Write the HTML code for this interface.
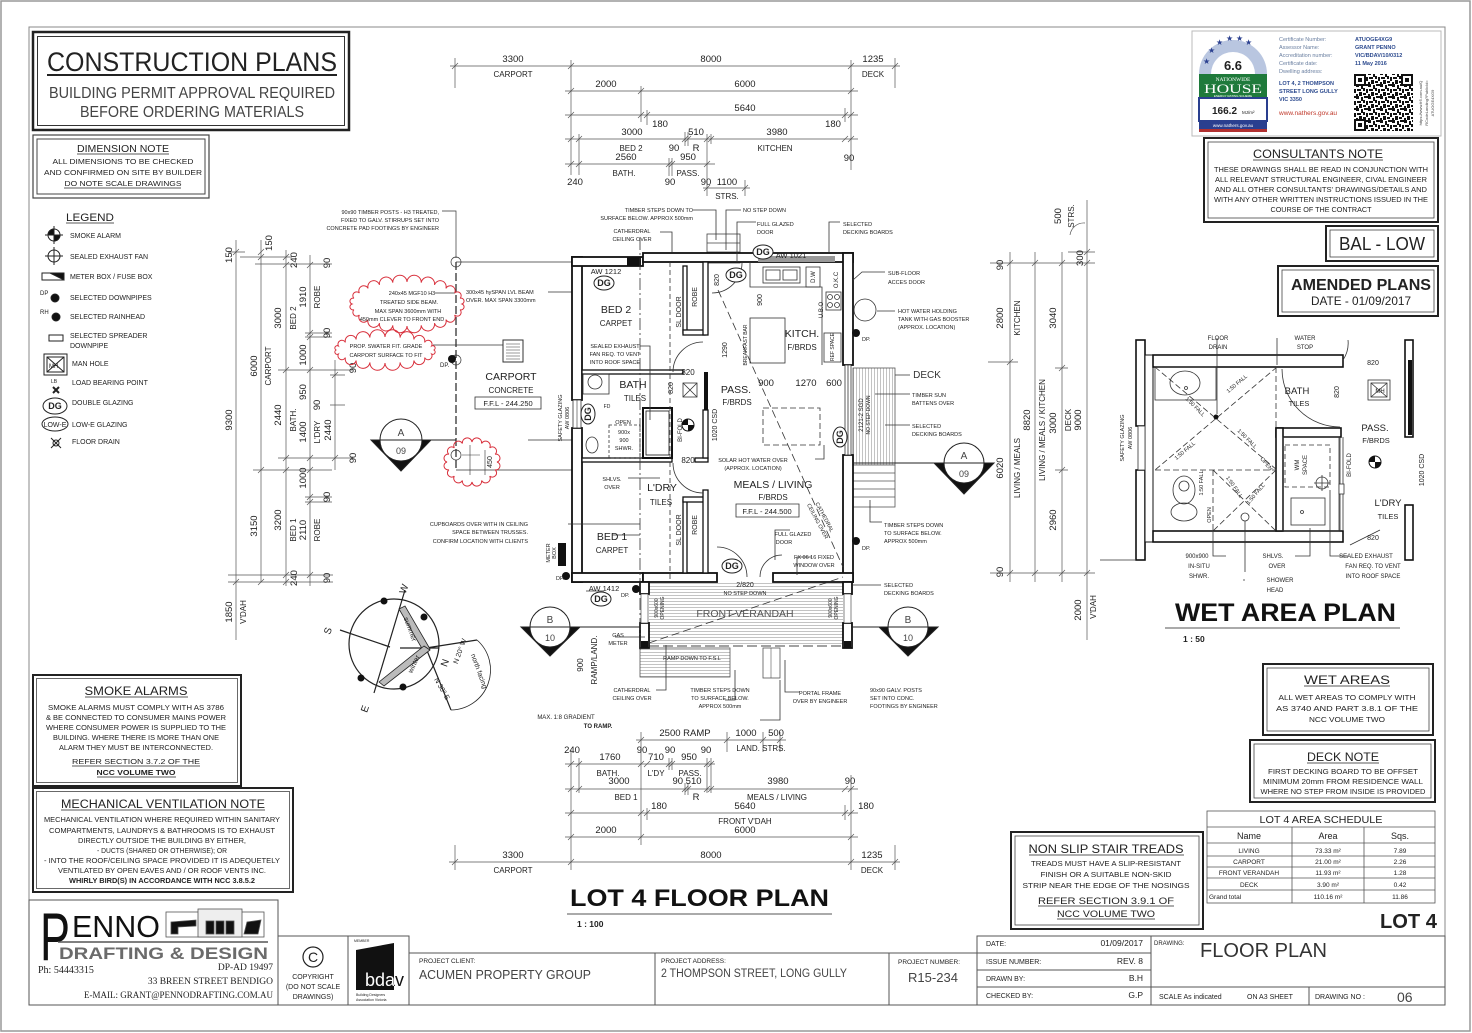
<!DOCTYPE html>
<html><head><meta charset="utf-8">
<style>
html,body{margin:0;padding:0;background:#fff;}
svg{display:block}
text{font-family:"Liberation Sans",sans-serif}
text:not([fill]){fill:#222}
.n{font-size:5.5px}
.m{font-size:7px}
.d{font-size:9.5px}
.rm{font-size:10.5px}
.sb{font-size:8px}
.ser{font-family:"Liberation Serif",serif}
.dg{font-size:9px;font-weight:bold}
</style></head><body>
<svg width="1472" height="1033" viewBox="0 0 1472 1033" xmlns="http://www.w3.org/2000/svg">
<defs>
<pattern id="hz" width="4" height="3" patternUnits="userSpaceOnUse"><rect width="4" height="3" fill="#fff"/><line x1="0" y1="1.5" x2="4" y2="1.5" stroke="#aaa" stroke-width="0.7"/></pattern>
<pattern id="vt" width="3" height="4" patternUnits="userSpaceOnUse"><rect width="3" height="4" fill="#fff"/><line x1="1.5" y1="0" x2="1.5" y2="4" stroke="#aaa" stroke-width="0.7"/></pattern>
<pattern id="qr" width="12" height="12" patternUnits="userSpaceOnUse"><rect width="12" height="12" fill="#fff"/><rect x="0" y="0" width="3" height="3" fill="#111"/><rect x="5" y="1" width="2" height="4" fill="#111"/><rect x="8" y="0" width="4" height="2" fill="#111"/><rect x="1" y="5" width="4" height="2" fill="#111"/><rect x="7" y="4" width="2" height="3" fill="#111"/><rect x="10" y="5" width="2" height="4" fill="#111"/><rect x="3" y="8" width="3" height="4" fill="#111"/><rect x="7" y="9" width="3" height="2" fill="#111"/><rect x="0" y="10" width="2" height="2" fill="#111"/></pattern>
<clipPath id="bdc"><polygon points="356,950 394,943 394,990 356,990"/></clipPath>
</defs>

<!-- frames -->
<rect x="1" y="1" width="1469" height="1030" fill="none" stroke="#999" stroke-width="1.5"/>
<rect x="29" y="27" width="1416" height="978" fill="none" stroke="#888" stroke-width="1"/>

<!-- CONSTRUCTION PLANS -->
<rect x="33" y="32" width="316" height="98" fill="none" stroke="#222" stroke-width="2.5"/>
<rect x="37.5" y="36.5" width="307" height="89" fill="none" stroke="#333" stroke-width="1"/>
<text x="47" y="71" font-size="27" textLength="290" lengthAdjust="spacingAndGlyphs">CONSTRUCTION PLANS</text>
<line x1="47" y1="75" x2="337" y2="75" stroke="#222" stroke-width="2"/>
<text x="49" y="98" font-size="16" fill="#444" textLength="286" lengthAdjust="spacingAndGlyphs">BUILDING PERMIT APPROVAL REQUIRED</text>
<text x="80" y="117" font-size="16" fill="#444" textLength="224" lengthAdjust="spacingAndGlyphs">BEFORE ORDERING MATERIALS</text>

<!-- DIMENSION NOTE -->
<rect x="33" y="135" width="176" height="63" fill="none" stroke="#444" stroke-width="1.2"/>
<rect x="37" y="139" width="168" height="55" fill="none" stroke="#444" stroke-width="1"/>
<g text-anchor="middle">
<text x="123" y="152" font-size="10" textLength="92" lengthAdjust="spacingAndGlyphs">DIMENSION NOTE</text>
<text x="123" y="164" class="m" textLength="141" lengthAdjust="spacingAndGlyphs">ALL DIMENSIONS TO BE CHECKED</text>
<text x="123" y="175" class="m" textLength="158" lengthAdjust="spacingAndGlyphs">AND CONFIRMED ON SITE BY BUILDER</text>
<text x="123" y="186" class="m" textLength="117" lengthAdjust="spacingAndGlyphs">DO NOTE SCALE DRAWINGS</text>
</g>
<line x1="77" y1="154" x2="169" y2="154" stroke="#222" stroke-width="0.8"/>
<line x1="64" y1="188" x2="181" y2="188" stroke="#222" stroke-width="0.8"/>

<!-- LEGEND -->
<text x="66" y="221" font-size="11" textLength="48" lengthAdjust="spacingAndGlyphs">LEGEND</text>
<line x1="66" y1="223" x2="114" y2="223" stroke="#222" stroke-width="0.8"/>
<g>
<text x="70" y="238" class="m">SMOKE ALARM</text>
<text x="70" y="259" class="m">SEALED EXHAUST FAN</text>
<text x="70" y="279" class="m">METER BOX / FUSE BOX</text>
<text x="70" y="300" class="m">SELECTED DOWNPIPES</text>
<text x="70" y="319" class="m">SELECTED RAINHEAD</text>
<text x="70" y="338" class="m">SELECTED SPREADER</text>
<text x="70" y="348" class="m">DOWNPIPE</text>
<text x="72" y="366" class="m">MAN HOLE</text>
<text x="72" y="385" class="m">LOAD BEARING POINT</text>
<text x="72" y="405" class="m">DOUBLE GLAZING</text>
<text x="72" y="427" class="m">LOW-E GLAZING</text>
<text x="72" y="444" class="m">FLOOR DRAIN</text>
</g>
<g stroke="#222" fill="none" stroke-width="1">
<circle cx="54" cy="235" r="6"/><path d="M54 235h-6a6 6 0 0 1 6-6z M54 235h6a6 6 0 0 1 -6 6z" fill="#111"/><path d="M45 235h18M54 226v18"/>
<circle cx="54" cy="256" r="6"/><path d="M45 256h18M54 247v18"/>
<rect x="42" y="273" width="22" height="7"/><polygon points="50,273 64,273 64,280" fill="#111"/>
<circle cx="55" cy="298" r="4" fill="#111"/><circle cx="56" cy="317" r="4" fill="#111"/>
<rect x="49" y="335" width="14" height="6"/>
<rect x="44" y="354" width="23" height="21"/><rect x="47" y="357" width="17" height="15"/><path d="M47 357l17 15M64 357l-17 15"/>
<path d="M53 387l6 6M59 387l-6 6" stroke-width="2"/>
<ellipse cx="55" cy="406" rx="12" ry="8"/>
<ellipse cx="55" cy="424" rx="13" ry="7"/>
<circle cx="56" cy="443" r="3"/><path d="M51 438l10 10M61 438l-10 10"/>
</g>
<text x="40" y="295" font-size="6">DP</text><text x="40" y="314" font-size="6">RH</text>
<text x="51" y="383" font-size="5">LB</text>
<text x="49" y="368" font-size="6">MH</text>
<text x="55" y="409" text-anchor="middle" class="dg">DG</text>
<text x="55" y="427" text-anchor="middle" font-size="7">LOW-E</text>

<!-- SMOKE ALARMS -->
<rect x="33" y="675" width="208" height="111" fill="none" stroke="#222" stroke-width="2"/>
<rect x="36.5" y="678.5" width="201" height="104" fill="none" stroke="#444" stroke-width="0.8"/>
<g text-anchor="middle">
<text x="136" y="695" font-size="11.5" textLength="103" lengthAdjust="spacingAndGlyphs">SMOKE ALARMS</text>
<text x="136" y="710" class="m" textLength="176" lengthAdjust="spacingAndGlyphs">SMOKE ALARMS MUST COMPLY WITH AS 3786</text>
<text x="136" y="720" class="m" textLength="180" lengthAdjust="spacingAndGlyphs">&amp; BE CONNECTED TO CONSUMER MAINS POWER</text>
<text x="136" y="730" class="m" textLength="180" lengthAdjust="spacingAndGlyphs">WHERE CONSUMER POWER IS SUPPLIED TO THE</text>
<text x="136" y="740" class="m" textLength="166" lengthAdjust="spacingAndGlyphs">BUILDING. WHERE THERE IS MORE THAN ONE</text>
<text x="136" y="750" class="m" textLength="154" lengthAdjust="spacingAndGlyphs">ALARM THEY MUST BE INTERCONNECTED.</text>
<text x="136" y="764" class="m" textLength="128" lengthAdjust="spacingAndGlyphs">REFER SECTION 3.7.2 OF THE</text>
<text x="136" y="775" class="m" font-weight="bold" textLength="79" lengthAdjust="spacingAndGlyphs">NCC VOLUME TWO</text>
</g>
<path d="M85 697h103M72 766h128M97 777h79" stroke="#222" stroke-width="0.8"/>

<!-- MECHANICAL -->
<rect x="33" y="788" width="260" height="104" fill="none" stroke="#222" stroke-width="2"/>
<rect x="36.5" y="791.5" width="253" height="97" fill="none" stroke="#444" stroke-width="0.8"/>
<g text-anchor="middle">
<text x="163" y="808" font-size="11.5" textLength="204" lengthAdjust="spacingAndGlyphs">MECHANICAL VENTILATION NOTE</text>
<text x="162" y="822" class="m" textLength="236" lengthAdjust="spacingAndGlyphs">MECHANICAL VENTILATION WHERE REQUIRED WITHIN SANITARY</text>
<text x="162" y="833" class="m" textLength="226" lengthAdjust="spacingAndGlyphs">COMPARTMENTS, LAUNDRYS &amp; BATHROOMS IS TO EXHAUST</text>
<text x="162" y="843" class="m" textLength="168" lengthAdjust="spacingAndGlyphs">DIRECTLY OUTSIDE THE BUILDING BY EITHER,</text>
<text x="162" y="853" class="m" textLength="130" lengthAdjust="spacingAndGlyphs">- DUCTS (SHARED OR OTHERWISE); OR</text>
<text x="162" y="863" class="m" textLength="236" lengthAdjust="spacingAndGlyphs">- INTO THE ROOF/CEILING SPACE PROVIDED IT IS ADEQUETELY</text>
<text x="162" y="873" class="m" textLength="208" lengthAdjust="spacingAndGlyphs">VENTILATED BY OPEN EAVES AND / OR ROOF VENTS INC.</text>
<text x="162" y="883" class="m" font-weight="bold" textLength="186" lengthAdjust="spacingAndGlyphs">WHIRLY BIRD(S) IN ACCORDANCE WITH NCC 3.8.5.2</text>
</g>
<line x1="61" y1="810" x2="265" y2="810" stroke="#222" stroke-width="0.8"/>

<!-- PENNO title block -->
<g fill="none" stroke="#555" stroke-width="1">
<rect x="29" y="900" width="249" height="105"/>
<rect x="278" y="936" width="70" height="69"/>
<rect x="348" y="936" width="61" height="69"/>
<rect x="409" y="953" width="246" height="52"/>
<rect x="655" y="953" width="234" height="52"/>
<rect x="889" y="953" width="88" height="52"/>
<rect x="977" y="936" width="174" height="69"/>
<path d="M977 953h174M977 970h174M977 987h174"/>
<rect x="1151" y="936" width="294" height="69"/>
<path d="M1151 987h294M1309 987v18"/>
</g>
<text x="40" y="960" font-size="68" textLength="30" lengthAdjust="spacingAndGlyphs" fill="#111">P</text>
<text x="72" y="937" font-size="31" textLength="88" lengthAdjust="spacingAndGlyphs" fill="#111">ENNO</text>
<g stroke="#555" stroke-width="0.8">
<rect x="166" y="912" width="98" height="25" fill="none"/>
<rect x="198" y="909" width="44" height="28" fill="#eee"/>
<polygon points="171,922 196,920 196,926 178,927 178,934 171,934" fill="#111"/>
<rect x="206" y="921" width="8" height="13" fill="#111"/><rect x="216" y="921" width="8" height="13" fill="#111"/><rect x="226" y="921" width="8" height="13" fill="#111"/>
<polygon points="244,934 247,922 261,920 258,934" fill="#111"/>
</g>
<line x1="58" y1="942" x2="268" y2="942" stroke="#555" stroke-width="1.5"/>
<text x="59" y="959" font-size="17" font-weight="bold" fill="#6b6b6b" textLength="209" lengthAdjust="spacingAndGlyphs">DRAFTING &amp; DESIGN</text>
<text x="38" y="973" class="ser" font-size="10">Ph: 54443315</text>
<g text-anchor="end" font-size="9.5">
<text x="273" y="970" class="ser">DP-AD 19497</text>
<text x="273" y="984" class="ser">33 BREEN STREET BENDIGO</text>
<text x="273" y="998" class="ser" textLength="189" lengthAdjust="spacingAndGlyphs">E-MAIL: GRANT@PENNODRAFTING.COM.AU</text>
</g>
<circle cx="313" cy="957" r="10" fill="none" stroke="#222" stroke-width="1.2"/>
<text x="313" y="962" text-anchor="middle" font-size="14">C</text>
<g text-anchor="middle" font-size="7"><text x="313" y="979">COPYRIGHT</text><text x="313" y="989">(DO NOT SCALE</text><text x="313" y="999">DRAWINGS)</text></g>
<text x="354" y="942" font-size="3.5">MEMBER</text>
<polygon points="356,950 394,943 394,990 356,990" fill="#111"/>
<text x="365" y="986" font-size="18" fill="#111">bdav</text>
<text x="365" y="986" font-size="18" fill="#fff" clip-path="url(#bdc)">bdav</text>
<text x="356" y="996" font-size="3.5">Building Designers</text><text x="356" y="1001" font-size="3.5">Association Victoria</text>
<text x="419" y="963" font-size="6.5">PROJECT CLIENT:</text>
<text x="419" y="979" font-size="13" fill="#444" textLength="172" lengthAdjust="spacingAndGlyphs">ACUMEN PROPERTY GROUP</text>
<text x="661" y="963" font-size="6.5">PROJECT ADDRESS:</text>
<text x="661" y="977" font-size="11.5" fill="#444" textLength="186" lengthAdjust="spacingAndGlyphs">2 THOMPSON STREET, LONG GULLY</text>
<text x="898" y="964" font-size="6.5">PROJECT NUMBER:</text>
<text x="933" y="982" text-anchor="middle" font-size="12.5" fill="#444" textLength="50" lengthAdjust="spacingAndGlyphs">R15-234</text>
<g font-size="7"><text x="986" y="946">DATE:</text><text x="986" y="964">ISSUE NUMBER:</text><text x="986" y="981">DRAWN BY:</text><text x="986" y="998">CHECKED BY:</text></g>
<g font-size="8.5" text-anchor="end"><text x="1143" y="946">01/09/2017</text><text x="1143" y="964">REV. 8</text><text x="1143" y="981">B.H</text><text x="1143" y="998">G.P</text></g>
<text x="1154" y="945" font-size="6">DRAWING:</text>
<text x="1200" y="957" font-size="20" fill="#333" textLength="127" lengthAdjust="spacingAndGlyphs">FLOOR PLAN</text>
<text x="1159" y="999" font-size="7">SCALE As indicated</text>
<text x="1247" y="999" font-size="7">ON A3 SHEET</text>
<text x="1315" y="999" font-size="7">DRAWING NO :</text>
<text x="1397" y="1002" font-size="14" fill="#444">06</text>

<!-- NATHERS -->
<rect x="1192" y="31" width="249" height="105" fill="#fff" stroke="#bbb" stroke-width="1"/>
<path d="M1199 74a34 34 0 0 1 68 0z" fill="#b9c6e0"/>
<path d="M1211 74a22 22 0 0 1 44 0z" fill="#fff"/>
<g font-size="8"><text x="1203" y="64" fill="#2a3f8f">★</text><text x="1208" y="53" fill="#2a3f8f">★</text><text x="1216" y="45" fill="#2a3f8f">★</text><text x="1226" y="41" fill="#2a3f8f">★</text><text x="1236" y="41" fill="#2a3f8f">★</text><text x="1245" y="45" fill="#2a3f8f">★</text></g>
<text x="1233" y="70" text-anchor="middle" font-size="13" font-weight="bold">6.6</text>
<rect x="1199" y="74" width="68" height="24" fill="#1f7a3b"/>
<text x="1233" y="81" text-anchor="middle" font-size="5.5" fill="#fff" class="ser">NATIONWIDE</text>
<text x="1233" y="93" text-anchor="middle" font-size="13" fill="#fff" class="ser" textLength="58" lengthAdjust="spacingAndGlyphs">HOUSE</text>
<text x="1233" y="97" text-anchor="middle" font-size="3" fill="#fff">ENERGY RATING SCHEME</text>
<rect x="1199" y="98" width="68" height="23" fill="#fff" stroke="#2a3f8f" stroke-width="2"/>
<text x="1212" y="114" font-size="10" font-weight="bold">166.2</text><text x="1242" y="114" font-size="4.5">MJ/m²</text>
<rect x="1199" y="121" width="68" height="8" fill="#2a3f8f"/>
<text x="1233" y="127" text-anchor="middle" font-size="4.5" fill="#fff">www.nathers.gov.au</text>
<rect x="1199" y="129" width="68" height="3" fill="#b03030"/>
<g font-size="5.5"><text x="1279" y="41" fill="#6a7fa0">Certificate Number:</text><text x="1279" y="49" fill="#6a7fa0">Assessor Name:</text><text x="1279" y="57" fill="#6a7fa0">Accreditation number:</text><text x="1279" y="65" fill="#6a7fa0">Certificate date:</text><text x="1279" y="73" fill="#6a7fa0">Dwelling address:</text></g>
<g font-size="5.5" font-weight="bold"><text x="1355" y="41" fill="#2d4b8f">ATUOGE4XG9</text><text x="1355" y="49" fill="#2d4b8f">GRANT PENNO</text><text x="1355" y="57" fill="#2d4b8f">VIC/BDAV/10/0312</text><text x="1355" y="65" fill="#2d4b8f">11 May 2016</text>
<text x="1279" y="85" fill="#2d4b8f">LOT 4, 2 THOMPSON</text><text x="1279" y="93" fill="#2d4b8f">STREET LONG GULLY</text><text x="1279" y="101" fill="#2d4b8f">VIC 3350</text></g>
<text x="1279" y="115" font-size="6.5" fill="#c0392b">www.nathers.gov.au</text>
<rect x="1354" y="74" width="59" height="57" fill="url(#qr)"/>
<g fill="#111"><rect x="1354" y="74" width="12" height="12"/><rect x="1401" y="74" width="12" height="12"/><rect x="1354" y="119" width="12" height="12"/></g>
<g fill="#fff"><rect x="1356" y="76" width="8" height="8"/><rect x="1403" y="76" width="8" height="8"/><rect x="1356" y="121" width="8" height="8"/></g>
<g fill="#111"><rect x="1358" y="78" width="4" height="4"/><rect x="1405" y="78" width="4" height="4"/><rect x="1358" y="123" width="4" height="4"/></g>
<g font-size="4"><text transform="rotate(-90 1422 103)" x="1422" y="103" text-anchor="middle" fill="#444">https://www.fr5.com.au/Q</text><text transform="rotate(-90 1428 103)" x="1428" y="103" text-anchor="middle" fill="#444">RCodeLanding?PublicId=</text><text transform="rotate(-90 1434 103)" x="1434" y="103" text-anchor="middle" fill="#444">ATUOGE4XG9</text></g>

<!-- CONSULTANTS NOTE -->
<rect x="1204" y="138" width="234" height="84" fill="none" stroke="#222" stroke-width="2"/>
<rect x="1208" y="142" width="226" height="76" fill="none" stroke="#444" stroke-width="0.8"/>
<g text-anchor="middle">
<text x="1318" y="158" font-size="12" textLength="130" lengthAdjust="spacingAndGlyphs">CONSULTANTS NOTE</text>
<text x="1321" y="172" class="m" textLength="214" lengthAdjust="spacingAndGlyphs">THESE DRAWINGS SHALL BE READ IN CONJUNCTION WITH</text>
<text x="1321" y="182" class="m" textLength="212" lengthAdjust="spacingAndGlyphs">ALL RELEVANT STRUCTURAL ENGINEER, CIVAL ENGINEER</text>
<text x="1321" y="192" class="m" textLength="212" lengthAdjust="spacingAndGlyphs">AND ALL OTHER CONSULTANTS' DRAWINGS/DETAILS AND</text>
<text x="1321" y="202" class="m" textLength="214" lengthAdjust="spacingAndGlyphs">WITH ANY OTHER WRITTEN INSTRUCTIONS ISSUED IN THE</text>
<text x="1321" y="212" class="m" textLength="101" lengthAdjust="spacingAndGlyphs">COURSE OF THE CONTRACT</text>
</g>
<line x1="1253" y1="160" x2="1383" y2="160" stroke="#222" stroke-width="0.8"/>
<rect x="1326" y="226" width="112" height="35" fill="none" stroke="#222" stroke-width="2"/>
<rect x="1330" y="230" width="104" height="27" fill="none" stroke="#444" stroke-width="0.8"/>
<text x="1382" y="250" text-anchor="middle" font-size="18" textLength="86" lengthAdjust="spacingAndGlyphs">BAL - LOW</text>
<rect x="1278" y="266" width="160" height="50" fill="none" stroke="#222" stroke-width="2"/>
<rect x="1282" y="270" width="152" height="42" fill="none" stroke="#444" stroke-width="0.8"/>
<text x="1361" y="290" text-anchor="middle" font-size="16" font-weight="bold" textLength="140" lengthAdjust="spacingAndGlyphs">AMENDED PLANS</text>
<text x="1361" y="305" text-anchor="middle" font-size="12" textLength="100" lengthAdjust="spacingAndGlyphs">DATE - 01/09/2017</text>

<!-- WET AREAS / DECK NOTE -->
<rect x="1263" y="664" width="170" height="71" fill="none" stroke="#222" stroke-width="2"/>
<rect x="1267" y="668" width="162" height="63" fill="none" stroke="#444" stroke-width="0.8"/>
<g text-anchor="middle">
<text x="1347" y="684" font-size="12" textLength="86" lengthAdjust="spacingAndGlyphs">WET AREAS</text>
<text x="1347" y="700" class="m" textLength="137" lengthAdjust="spacingAndGlyphs">ALL WET AREAS TO COMPLY WITH</text>
<text x="1347" y="711" class="m" textLength="142" lengthAdjust="spacingAndGlyphs">AS 3740 AND PART 3.8.1 OF THE</text>
<text x="1347" y="722" class="m" textLength="76" lengthAdjust="spacingAndGlyphs">NCC VOLUME TWO</text>
</g>
<line x1="1304" y1="686" x2="1390" y2="686" stroke="#222" stroke-width="0.8"/>
<rect x="1250" y="740" width="185" height="62" fill="none" stroke="#222" stroke-width="2"/>
<rect x="1254" y="744" width="177" height="54" fill="none" stroke="#444" stroke-width="0.8"/>
<g text-anchor="middle">
<text x="1343" y="761" font-size="12" textLength="72" lengthAdjust="spacingAndGlyphs">DECK NOTE</text>
<text x="1343" y="774" class="m" textLength="150" lengthAdjust="spacingAndGlyphs">FIRST DECKING BOARD TO BE OFFSET</text>
<text x="1343" y="784" class="m" textLength="160" lengthAdjust="spacingAndGlyphs">MINIMUM 20mm FROM RESIDENCE WALL</text>
<text x="1343" y="794" class="m" textLength="165" lengthAdjust="spacingAndGlyphs">WHERE NO STEP FROM INSIDE IS PROVIDED</text>
</g>
<line x1="1307" y1="763" x2="1379" y2="763" stroke="#222" stroke-width="0.8"/>

<!-- NON SLIP -->
<rect x="1011" y="832" width="192" height="97" fill="none" stroke="#222" stroke-width="2"/>
<rect x="1015" y="836" width="184" height="89" fill="none" stroke="#444" stroke-width="0.8"/>
<g text-anchor="middle">
<text x="1106" y="853" font-size="12" textLength="155" lengthAdjust="spacingAndGlyphs">NON SLIP STAIR TREADS</text>
<text x="1106" y="866" class="m" textLength="150" lengthAdjust="spacingAndGlyphs">TREADS MUST HAVE A SLIP-RESISTANT</text>
<text x="1106" y="877" class="m" textLength="131" lengthAdjust="spacingAndGlyphs">FINISH OR A SUITABLE NON-SKID</text>
<text x="1106" y="888" class="m" textLength="167" lengthAdjust="spacingAndGlyphs">STRIP NEAR THE EDGE OF THE NOSINGS</text>
<text x="1106" y="904" font-size="9.5" textLength="136" lengthAdjust="spacingAndGlyphs">REFER SECTION 3.9.1 OF</text>
<text x="1106" y="917" font-size="9.5" textLength="98" lengthAdjust="spacingAndGlyphs">NCC VOLUME TWO</text>
</g>
<path d="M1029 855h155M1038 906h136M1057 919h98" stroke="#222" stroke-width="0.8"/>

<!-- AREA SCHEDULE -->
<g fill="none" stroke="#555" stroke-width="0.8">
<rect x="1207" y="811" width="228" height="92"/>
<path d="M1207 827h228M1207 843h228M1207 856h228M1207 867h228M1207 878h228M1207 890h228M1292 827v76M1364 827v76"/>
</g>
<g text-anchor="middle">
<text x="1321" y="823" font-size="10" textLength="123" lengthAdjust="spacingAndGlyphs">LOT 4 AREA SCHEDULE</text>
<text x="1249" y="839" font-size="9">Name</text><text x="1328" y="839" font-size="9">Area</text><text x="1400" y="839" font-size="9">Sqs.</text>
<g font-size="6.5"><text x="1249" y="853">LIVING</text><text x="1328" y="853">73.33 m²</text><text x="1400" y="853">7.89</text>
<text x="1249" y="864">CARPORT</text><text x="1328" y="864">21.00 m²</text><text x="1400" y="864">2.26</text>
<text x="1249" y="875">FRONT VERANDAH</text><text x="1328" y="875">11.93 m²</text><text x="1400" y="875">1.28</text>
<text x="1249" y="887">DECK</text><text x="1328" y="887">3.90 m²</text><text x="1400" y="887">0.42</text>
<text x="1328" y="899">110.16 m²</text><text x="1400" y="899">11.86</text></g>
</g>
<text x="1209" y="899" font-size="6.5">Grand total</text>
<text x="1380" y="928" font-size="20" font-weight="bold" textLength="57" lengthAdjust="spacingAndGlyphs">LOT 4</text>

<!-- PLAN TITLES -->
<text x="570" y="906" font-size="24" font-weight="bold" fill="#111" textLength="259" lengthAdjust="spacingAndGlyphs">LOT 4 FLOOR PLAN</text>
<line x1="567" y1="914" x2="832" y2="914" stroke="#777" stroke-width="1.2"/>
<text x="577" y="927" font-size="8.5" font-weight="bold">1 : 100</text>
<text x="1175" y="621" font-size="25" font-weight="bold" fill="#111" textLength="221" lengthAdjust="spacingAndGlyphs">WET AREA PLAN</text>
<line x1="1165" y1="628" x2="1400" y2="628" stroke="#777" stroke-width="1.2"/>
<text x="1183" y="642" font-size="8.5" font-weight="bold">1 : 50</text>

<!-- ===== DIMENSIONS ===== -->
<g stroke="#555" stroke-width="0.7" fill="none">
<path d="M450 66H900M565 91H858M565 115H858M565 139H858M565 164H715M703 188H750"/>
<path d="M455 58v30M895 58v30M571 60v115M851 60v110M641 86v36M647 110v15M845 108v14M579 134v41M685 132v14M688 132v14M707 134v62M711 134v10M669 158v18M672 158v18M745 180v16"/>
<path d="M452 69l6-6M568 69l6-6M848 69l6-6M892 69l6-6M568 94l6-6M638 94l6-6M848 94l6-6M568 118l6-6M638 118l6-6M644 118l6-6M842 118l6-6M848 118l6-6M568 142l6-6M576 142l6-6M682 142l6-6M685 142l6-6M704 142l6-6M708 142l6-6M842 142l6-6M848 142l6-6M568 167l6-6M576 167l6-6M666 167l6-6M669 167l6-6M704 167l6-6M704 191l6-6M742 191l6-6"/>
<path d="M236 240V640M261 240V582M286 250V586M310 255V586M335 360V470"/>
<path d="M228 252H245M240 257H292M255 264H332M278 370H353M278 458H353M305 333H332M305 337H332M253 470H332M305 497H332M305 502H332M228 575H333M228 582H333M330 375H345M330 405H345"/>
<path d="M233 255l6-6M233 585l6-6M258 255l6-6M258 260l6-6M258 473l6-6M258 585l6-6M283 260l6-6M283 268l6-6M283 373l6-6M283 461l6-6M283 473l6-6M283 578l6-6M283 585l6-6M307 268l6-6M307 336l6-6M307 340l6-6M307 373l6-6M307 461l6-6M307 473l6-6M307 500l6-6M307 505l6-6M307 578l6-6M332 378l6-6M332 461l6-6"/>
<path d="M1010 252V582M1035 252V582M1062 252V582M1087 200V640"/>
<path d="M990 263H1095M990 573H1095M988 362H1018M1055 368H1068M1055 470H1068M1068 252H1095"/>
<path d="M1007 266l6-6M1007 576l6-6M1007 365l6-6M1032 266l6-6M1032 576l6-6M1059 266l6-6M1059 371l6-6M1059 473l6-6M1059 576l6-6M1084 255l6-6M1084 266l6-6M1084 576l6-6"/>
<path d="M1070 235a14 14 0 0 1 15 -12"/>
<path d="M636 740H786M565 764H715M565 789H858M565 813H858M565 837H858M449 862H900"/>
<path d="M455 845v25M895 845v25M571 750v120M851 775v95M641 732v113M727 732v20M763 732v20M780 732v20M647 808v12M845 805v15M579 758v35M669 758v12M672 758v12M707 758v35M711 758v35M685 783v12M688 783v12"/>
<path d="M638 743l6-6M724 743l6-6M760 743l6-6M777 743l6-6M568 767l6-6M576 767l6-6M638 767l6-6M644 767l6-6M666 767l6-6M669 767l6-6M704 767l6-6M708 767l6-6M568 792l6-6M576 792l6-6M682 792l6-6M685 792l6-6M704 792l6-6M708 792l6-6M842 792l6-6M848 792l6-6M568 816l6-6M638 816l6-6M644 816l6-6M842 816l6-6M848 816l6-6M568 840l6-6M638 840l6-6M848 840l6-6M452 865l6-6M568 865l6-6M848 865l6-6M892 865l6-6"/>
</g>

<g text-anchor="middle">
<text x="513" y="62" class="d">3300</text><text x="711" y="62" class="d">8000</text><text x="873" y="62" class="d">1235</text>
<text x="606" y="87" class="d">2000</text><text x="745" y="87" class="d">6000</text>
<text x="745" y="111" class="d">5640</text><text x="660" y="127" class="d">180</text><text x="833" y="127" class="d">180</text>
<text x="632" y="135" class="d">3000</text><text x="696" y="135" class="d">510</text><text x="777" y="135" class="d">3980</text>
<text x="674" y="151" class="d">90</text><text x="696" y="151" class="d">R</text><text x="849" y="161" class="d">90</text>
<text x="626" y="160" class="d">2560</text><text x="688" y="160" class="d">950</text>
<text x="575" y="185" class="d">240</text><text x="670" y="185" class="d">90</text><text x="706" y="185" class="d">90</text><text x="727" y="185" class="d">1100</text>
<text x="685" y="736" class="d">2500 RAMP</text><text x="746" y="736" class="d">1000</text><text x="776" y="736" class="d">500</text>
<text x="572" y="753" class="d">240</text><text x="642" y="753" class="d">90</text><text x="670" y="753" class="d">90</text><text x="706" y="753" class="d">90</text>
<text x="610" y="760" class="d">1760</text><text x="656" y="760" class="d">710</text><text x="689" y="760" class="d">950</text>
<text x="619" y="784" class="d">3000</text><text x="687" y="784" class="d">90 510</text><text x="778" y="784" class="d">3980</text><text x="850" y="784" class="d">90</text>
<text x="696" y="800" class="d">R</text>
<text x="659" y="809" class="d">180</text><text x="745" y="809" class="d">5640</text><text x="866" y="809" class="d">180</text>
<text x="606" y="833" class="d">2000</text><text x="745" y="833" class="d">6000</text>
<text x="513" y="858" class="d">3300</text><text x="711" y="858" class="d">8000</text><text x="872" y="858" class="d">1235</text>
</g>
<g text-anchor="middle">
<text x="513" y="77" class="sb">CARPORT</text><text x="873" y="77" class="sb">DECK</text>
<text x="631" y="151" class="sb">BED  2</text><text x="775" y="151" class="sb">KITCHEN</text>
<text x="624" y="176" class="sb">BATH.</text><text x="688" y="176" class="sb">PASS.</text><text x="727" y="199" class="sb">STRS.</text>
<text x="761" y="751" class="sb">LAND. STRS.</text>
<text x="608" y="776" class="sb">BATH.</text><text x="656" y="776" class="sb">L'DY</text><text x="690" y="776" class="sb">PASS.</text>
<text x="626" y="800" class="sb">BED  1</text><text x="777" y="800" class="sb">MEALS  /  LIVING</text>
<text x="745" y="824" class="sb">FRONT V'DAH</text>
<text x="513" y="873" class="sb">CARPORT</text><text x="872" y="873" class="sb">DECK</text>
</g>
<g text-anchor="middle">
<text transform="rotate(-90 232 255)" x="232" y="255" class="d">150</text>
<text transform="rotate(-90 232 420)" x="232" y="420" class="d">9300</text>
<text transform="rotate(-90 232 612)" x="232" y="612" class="d">1850</text>
<text transform="rotate(-90 272 243)" x="272" y="243" class="d">150</text>
<text transform="rotate(-90 257 366)" x="257" y="366" class="d">6000</text>
<text transform="rotate(-90 257 526)" x="257" y="526" class="d">3150</text>
<text transform="rotate(-90 281 318)" x="281" y="318" class="d">3000</text>
<text transform="rotate(-90 281 415)" x="281" y="415" class="d">2440</text>
<text transform="rotate(-90 281 520)" x="281" y="520" class="d">3200</text>
<text transform="rotate(-90 297 260)" x="297" y="260" class="d">240</text>
<text transform="rotate(-90 306 297)" x="306" y="297" class="d">1910</text>
<text transform="rotate(-90 306 355)" x="306" y="355" class="d">1000</text>
<text transform="rotate(-90 306 392)" x="306" y="392" class="d">950</text>
<text transform="rotate(-90 306 432)" x="306" y="432" class="d">1400</text>
<text transform="rotate(-90 306 478)" x="306" y="478" class="d">1000</text>
<text transform="rotate(-90 306 530)" x="306" y="530" class="d">2110</text>
<text transform="rotate(-90 297 578)" x="297" y="578" class="d">240</text>
<text transform="rotate(-90 331 430)" x="331" y="430" class="d">2440</text>
<text transform="rotate(-90 330 263)" x="330" y="263" class="d">90</text>
<text transform="rotate(-90 330 333)" x="330" y="333" class="d">90</text>
<text transform="rotate(-90 330 497)" x="330" y="497" class="d">90</text>
<text transform="rotate(-90 330 578)" x="330" y="578" class="d">90</text>
<text transform="rotate(-90 320 405)" x="320" y="405" class="d">90</text>
<text transform="rotate(-90 356 368)" x="356" y="368" class="d">90</text>
<text transform="rotate(-90 356 458)" x="356" y="458" class="d">90</text>
<text transform="rotate(-90 1003 265)" x="1003" y="265" class="d">90</text>
<text transform="rotate(-90 1003 318)" x="1003" y="318" class="d">2800</text>
<text transform="rotate(-90 1003 468)" x="1003" y="468" class="d">6020</text>
<text transform="rotate(-90 1003 572)" x="1003" y="572" class="d">90</text>
<text transform="rotate(-90 1030 420)" x="1030" y="420" class="d">8820</text>
<text transform="rotate(-90 1056 318)" x="1056" y="318" class="d">3040</text>
<text transform="rotate(-90 1056 423)" x="1056" y="423" class="d">3000</text>
<text transform="rotate(-90 1056 520)" x="1056" y="520" class="d">2960</text>
<text transform="rotate(-90 1081 420)" x="1081" y="420" class="d">9000</text>
<text transform="rotate(-90 1061 216)" x="1061" y="216" class="d">500</text>
<text transform="rotate(-90 1083 258)" x="1083" y="258" class="d">300</text>
<text transform="rotate(-90 1081 610)" x="1081" y="610" class="d">2000</text>
</g>
<g text-anchor="middle">
<text transform="rotate(-90 246 612)" x="246" y="612" class="sb">V'DAH</text>
<text transform="rotate(-90 271 366)" x="271" y="366" class="sb">CARPORT</text>
<text transform="rotate(-90 296 318)" x="296" y="318" class="sb">BED  2</text>
<text transform="rotate(-90 296 420)" x="296" y="420" class="sb">BATH.</text>
<text transform="rotate(-90 296 530)" x="296" y="530" class="sb">BED  1</text>
<text transform="rotate(-90 320 297)" x="320" y="297" class="sb">ROBE</text>
<text transform="rotate(-90 320 432)" x="320" y="432" class="sb">L'DRY</text>
<text transform="rotate(-90 320 530)" x="320" y="530" class="sb">ROBE</text>
<text transform="rotate(-90 1020 318)" x="1020" y="318" class="sb">KITCHEN</text>
<text transform="rotate(-90 1020 468)" x="1020" y="468" class="sb">LIVING  /  MEALS</text>
<text transform="rotate(-90 1045 430)" x="1045" y="430" class="sb">LIVING  /  MEALS  /  KITCHEN</text>
<text transform="rotate(-90 1071 420)" x="1071" y="420" class="sb">DECK</text>
<text transform="rotate(-90 1074 216)" x="1074" y="216" class="sb">STRS.</text>
<text transform="rotate(-90 1096 607)" x="1096" y="607" class="sb">V'DAH</text>
</g>

<!-- ===== FLOOR PLAN ===== -->
<g stroke="#333" fill="none">
<path d="M456 262V470" stroke-width="1.3" stroke-dasharray="8 3"/>
<path d="M456 262H572M456 470H572M528 440H572M443 440H456" stroke-width="0.8"/>
<path d="M442 211H456V258M435 293H455M548 292H572M433 345H503" stroke-width="0.7"/>
<rect x="503" y="340" width="20" height="22" stroke-width="1"/>
<path d="M506 344h14M506 347h14M506 350h14M506 353h14M506 356h14M506 359h14" stroke-width="0.6"/>
<rect x="475" y="397" width="66" height="12" stroke-width="0.8"/>
<circle cx="456" cy="262" r="5" stroke-width="0.7"/><circle cx="456" cy="360" r="5" stroke-width="0.7"/><circle cx="456" cy="455" r="5" stroke-width="0.7"/>
<path d="M462 455h18M470 445v30M485 450v25" stroke-width="0.6"/>
</g>
<circle cx="452" cy="359" r="4" fill="#111"/>
<text x="440" y="367" font-size="6">DP.</text>
<g text-anchor="end">
<text x="439" y="214" class="n">90x90 TIMBER POSTS - H3 TREATED,</text>
<text x="439" y="222" class="n">FIXED TO GALV. STIRRUPS SET INTO</text>
<text x="439" y="230" class="n">CONCRETE PAD FOOTINGS BY ENGINEER</text>
</g>
<text x="466" y="294" class="n">300x45 hySPAN LVL BEAM</text>
<text x="466" y="302" class="n">OVER. MAX SPAN 3300mm</text>
<text x="511" y="380" text-anchor="middle" class="rm">CARPORT</text>
<text x="511" y="393" text-anchor="middle" class="sb">CONCRETE</text>
<text x="508" y="406" text-anchor="middle" font-size="7.5">F.F.L - 244.250</text>
<!-- red clouds -->
<g fill="none" stroke="#d8303c" stroke-width="1">
<path d="M462 304A1 1 0 0 1 460.1 309.7A1 1 0 0 1 454.6 315A1 1 0 0 1 445.9 319.6A1 1 0 0 1 434.5 323.1A1 1 0 0 1 421.2 325.3A1 1 0 0 1 407 326A1 1 0 0 1 392.8 325.3A1 1 0 0 1 379.5 323.1A1 1 0 0 1 368.1 319.6A1 1 0 0 1 359.4 315A1 1 0 0 1 353.9 309.7A1 1 0 0 1 352 304A1 1 0 0 1 353.9 298.3A1 1 0 0 1 359.4 293A1 1 0 0 1 368.1 288.4A1 1 0 0 1 379.5 284.9A1 1 0 0 1 392.8 282.7A1 1 0 0 1 407 282A1 1 0 0 1 421.2 282.7A1 1 0 0 1 434.5 284.9A1 1 0 0 1 445.9 288.4A1 1 0 0 1 454.6 293A1 1 0 0 1 460.1 298.3A1 1 0 0 1 462 304z"/>
<path d="M434 350A1 1 0 0 1 431.6 354A1 1 0 0 1 424.6 357.6A1 1 0 0 1 413.8 360.5A1 1 0 0 1 400.1 362.4A1 1 0 0 1 385 363A1 1 0 0 1 369.9 362.4A1 1 0 0 1 356.2 360.5A1 1 0 0 1 345.4 357.6A1 1 0 0 1 338.4 354A1 1 0 0 1 336 350A1 1 0 0 1 338.4 346A1 1 0 0 1 345.4 342.4A1 1 0 0 1 356.2 339.5A1 1 0 0 1 369.9 337.6A1 1 0 0 1 385 337A1 1 0 0 1 400.1 337.6A1 1 0 0 1 413.8 339.5A1 1 0 0 1 424.6 342.4A1 1 0 0 1 431.6 346A1 1 0 0 1 434 350z"/>
<path d="M497 462A1 1 0 0 1 495.1 469.7A1 1 0 0 1 489.7 476.1A1 1 0 0 1 481.6 480.5A1 1 0 0 1 472 482A1 1 0 0 1 462.4 480.5A1 1 0 0 1 454.3 476.1A1 1 0 0 1 448.9 469.7A1 1 0 0 1 447 462A1 1 0 0 1 448.9 454.3A1 1 0 0 1 454.3 447.9A1 1 0 0 1 462.4 443.5A1 1 0 0 1 472 442A1 1 0 0 1 481.6 443.5A1 1 0 0 1 489.7 447.9A1 1 0 0 1 495.1 454.3A1 1 0 0 1 497 462z"/>
</g>
<g text-anchor="middle">
<text x="412" y="295" class="n">240x45 MGF10 H3</text>
<text x="409" y="304" class="n">TREATED SIDE BEAM.</text>
<text x="408" y="313" class="n">MAX SPAN 3600mm WITH</text>
<text x="402" y="321" class="n">450mm CLEVER TO FRONT END</text>
<text x="386" y="348" class="n">PROP. SWATER FIT. GRADE</text>
<text x="386" y="357" class="n">CARPORT SURFACE TO FIT</text>
</g>
<text transform="rotate(-90 492 462)" x="492" y="462" text-anchor="middle" font-size="7">450</text>

<!-- deck right -->
<rect x="853" y="368" width="42" height="97" fill="url(#vt)" stroke="#555" stroke-width="0.8"/>
<rect x="853" y="465" width="42" height="42" fill="#fff" stroke="#555" stroke-width="0.8"/>
<path d="M853 473H895M853 481H895M853 489H895M853 497H895" stroke="#555" stroke-width="0.7"/>
<!-- verandah & ramp -->
<rect x="649" y="582" width="194" height="64" fill="url(#hz)"/>
<rect x="640" y="648" width="90" height="29" fill="url(#hz)" stroke="#555" stroke-width="0.8"/>
<rect x="763" y="648" width="17" height="30" fill="#fff" stroke="#555" stroke-width="0.8"/>
<path d="M771 648v30" stroke="#555" stroke-width="0.6"/>
<path d="M649 646H843" stroke="#444" stroke-width="1" stroke-dasharray="10 4"/>
<!-- top steps -->
<rect x="707" y="234" width="33" height="29" fill="#fff" stroke="#444" stroke-width="0.8"/>
<path d="M707 243h33M707 252h33" stroke="#444" stroke-width="0.7"/>

<!-- walls -->
<g fill="#fff" stroke="#111" stroke-width="1.8">
<rect x="572" y="257" width="10" height="143"/><rect x="572" y="428" width="10" height="154"/>
<rect x="572" y="257" width="71" height="9"/>
<rect x="643" y="253" width="210" height="9"/>
<rect x="843" y="253" width="10" height="112"/><rect x="843" y="455" width="10" height="127"/>
<rect x="572" y="573" width="71" height="9"/>
<rect x="643" y="573" width="74" height="9"/><rect x="773" y="573" width="80" height="9"/>
<rect x="640" y="582" width="9" height="12"/><rect x="640" y="623" width="9" height="25"/>
<rect x="843" y="582" width="9" height="12"/><rect x="843" y="623" width="9" height="25"/>
</g>
<g fill="#fff" stroke="#111" stroke-width="1.3">
<rect x="683" y="266" width="4" height="67"/><rect x="683" y="330" width="22" height="5"/>
<rect x="703" y="262" width="5" height="73"/>
<rect x="582" y="370" width="101" height="4"/>
<rect x="582" y="458" width="90" height="4"/><rect x="695" y="458" width="13" height="4"/>
<rect x="703" y="410" width="5" height="48"/>
<rect x="643" y="408" width="29" height="50" stroke-width="2"/>
<rect x="646" y="411" width="23" height="44" stroke-width="0.8"/>
<rect x="683" y="500" width="4" height="73"/><rect x="683" y="497" width="22" height="5"/>
<rect x="703" y="490" width="5" height="83"/>
</g>
<rect x="704" y="372" width="4" height="38" fill="#111"/>
<rect x="627" y="257" width="14" height="9" fill="#111"/>
<rect x="758" y="256" width="77" height="6" fill="#999"/>
<rect x="845" y="365" width="6" height="90" fill="#fff" stroke="#333" stroke-width="0.8"/>
<path d="M848 365v90" stroke="#333" stroke-width="0.8"/>
<rect x="573" y="400" width="8" height="28" fill="#fff" stroke="#333" stroke-width="0.8"/>
<path d="M577 400v28" stroke="#333" stroke-width="0.6"/>
<rect x="641" y="594" width="7" height="29" fill="#fff" stroke="#333" stroke-width="0.6"/>
<rect x="844" y="594" width="7" height="29" fill="#fff" stroke="#333" stroke-width="0.6"/>
<rect x="641" y="641" width="7" height="7" fill="#111"/><rect x="844" y="641" width="7" height="7" fill="#111"/>

<!-- plan fixtures & misc lines -->
<g fill="none" stroke="#333" stroke-width="0.8">
<path d="M640 238V652" stroke-dasharray="12 3 2 3"/>
<path d="M670 262V582" stroke-dasharray="5 3"/>
<path d="M718 290L843 567" stroke-dasharray="8 4"/>
<path d="M649 643L843 577" stroke-dasharray="8 4"/>
<path d="M673 372A30 30 0 0 1 703 342M673 463A30 30 0 0 0 703 493M742 263A30 30 0 0 1 712 293M717 547A30 30 0 0 1 747 577M760 577A22 22 0 0 1 782 555"/>
<path d="M750 262V287H822V365"/>
<rect x="763" y="267" width="37" height="16"/><rect x="766" y="270" width="14" height="10"/><rect x="783" y="270" width="14" height="10"/>
<rect x="806" y="267" width="14" height="20"/>
<rect x="826" y="292" width="15" height="18"/>
<circle cx="830" cy="297" r="2.5"/><circle cx="837" cy="297" r="2.5"/><circle cx="830" cy="305" r="2.5"/><circle cx="837" cy="305" r="2.5"/>
<rect x="824" y="333" width="17" height="29"/>
<rect x="750" y="318" width="35" height="45"/>
<path d="M763 408h57v37h-57z" stroke-dasharray="6 3"/>
<rect x="683" y="383" width="14" height="14"/><path d="M683 383l14 14M697 383l-14 14"/>
<rect x="609" y="425" width="31" height="33" stroke-dasharray="3 2"/>
<circle cx="595" cy="382" r="7"/><ellipse cx="592" cy="445" rx="6" ry="8"/>
<rect x="583" y="374" width="26" height="20"/>
<circle cx="865" cy="310" r="11"/>
<path d="M736 504h63v13h-63z"/>
<path d="M885 272H862l-9 8M895 311H877M910 375H895M910 394H875M910 425H885M882 522H870V500M881 585H853M815 459H824V445M640 346H650V420M628 478H660M612 535H640M693 210H716V240M741 210H726V250M756 222H737V262M660 232H672V252M840 222H829V252M568 524H640M586 591h18M800 692H785V660M790 530H775V560M812 557H797V575M725 700H735V670M656 690H666V645M615 637h30M760 720H780V680"/>
</g>
<circle cx="856" cy="333" r="4" fill="#111"/><circle cx="856" cy="541" r="4" fill="#111"/>
<circle cx="566" cy="576" r="4" fill="#111"/><circle cx="636" cy="589" r="4" fill="#111"/>
<polygon points="558,543 566,543 566,566 558,566" fill="#111"/>
<circle cx="688" cy="425" r="6" fill="#fff" stroke="#111"/><path d="M688 425h-6a6 6 0 0 1 6-6zM688 425h6a6 6 0 0 1-6 6z" fill="#111"/>

<!-- DG markers -->
<g fill="#fff" stroke="#222" stroke-width="1">
<ellipse cx="604" cy="283" rx="10" ry="7"/><ellipse cx="736" cy="275" rx="10" ry="7"/><ellipse cx="763" cy="252" rx="10" ry="7"/>
<ellipse cx="588" cy="414" rx="7" ry="10"/><ellipse cx="840" cy="437" rx="7" ry="10"/>
<ellipse cx="732" cy="566" rx="10" ry="7"/><ellipse cx="601" cy="599" rx="10" ry="7"/>
</g>
<g text-anchor="middle">
<text x="604" y="286" class="dg">DG</text><text x="736" y="278" class="dg">DG</text><text x="763" y="255" class="dg">DG</text>
<text x="732" y="569" class="dg">DG</text><text x="601" y="602" class="dg">DG</text>
<text transform="rotate(-90 591 414)" x="591" y="414" class="dg">DG</text>
<text transform="rotate(-90 843 437)" x="843" y="437" class="dg">DG</text>
</g>

<!-- room labels -->
<g text-anchor="middle">
<text x="616" y="313" class="rm">BED 2</text><text x="616" y="326" class="sb">CARPET</text>
<text x="633" y="388" class="rm">BATH</text><text x="635" y="401" class="sb">TILES</text>
<text x="662" y="491" class="rm">L'DRY</text><text x="661" y="505" class="sb">TILES</text>
<text x="612" y="540" class="rm">BED 1</text><text x="612" y="553" class="sb">CARPET</text>
<text x="802" y="337" class="rm">KITCH.</text><text x="802" y="350" class="sb">F/BRDS</text>
<text x="736" y="393" class="rm">PASS.</text><text x="737" y="405" class="sb">F/BRDS</text>
<text x="773" y="488" class="rm">MEALS / LIVING</text><text x="773" y="500" class="sb">F/BRDS</text>
<text x="767" y="514" font-size="7.5">F.F.L - 244.500</text>
<text x="745" y="617" class="rm" fill="#555">FRONT VERANDAH</text>
<text x="766" y="386" class="d">900</text><text x="806" y="386" class="d">1270</text><text x="834" y="386" class="d">600</text>
<text x="688" y="375" font-size="8">820</text><text x="688" y="463" font-size="8">820</text>
<text x="606" y="274" font-size="7.5">AW 1212</text><text x="791" y="258" font-size="7.5">AW 1021</text><text x="604" y="591" font-size="7.5">AW 1412</text>
<text x="745" y="587" font-size="7">2/820</text><text x="745" y="595" class="n">NO STEP DOWN</text>
<text x="927" y="378" font-size="10" fill="#333">DECK</text>
</g>
<g text-anchor="middle">
<text x="615" y="348" class="n">SEALED EXHAUST</text><text x="615" y="356" class="n">FAN REQ. TO VENT</text><text x="615" y="364" class="n">INTO ROOF SPACE</text>
<text x="623" y="424" class="n">OPEN</text><text x="624" y="434" class="n">900x</text><text x="624" y="442" class="n">900</text><text x="624" y="450" class="n">SHWR.</text>
<text x="612" y="481" class="n">SHLVS.</text><text x="612" y="489" class="n">OVER</text>
<text x="753" y="462" class="n">SOLAR HOT WATER OVER</text><text x="753" y="470" class="n">(APPROX. LOCATION)</text>
<text x="793" y="536" class="n">FULL GLAZED</text><text x="784" y="544" class="n">DOOR</text>
<text x="814" y="559" class="n">FX 06 16 FIXED</text><text x="814" y="567" class="n">WINDOW OVER</text>
<text x="618" y="637" class="n">GAS</text><text x="618" y="645" class="n">METER</text>
<text x="692" y="660" class="n">RAMP DOWN TO F.S.L</text>
<text x="632" y="692" class="n">CATHERDRAL</text><text x="632" y="700" class="n">CEILING OVER</text>
<text x="720" y="692" class="n">TIMBER STEPS DOWN</text><text x="720" y="700" class="n">TO SURFACE BELOW.</text><text x="720" y="708" class="n">APPROX 500mm</text>
<text x="566" y="719" font-size="6">MAX. 1:8 GRADIENT</text><text x="598" y="728" font-weight="bold" font-size="6">TO RAMP.</text>
<text x="820" y="695" class="n">PORTAL FRAME</text><text x="820" y="703" class="n">OVER BY ENGINEER</text>
<text x="632" y="233" class="n">CATHERDRAL</text><text x="632" y="241" class="n">CEILING OVER</text>
</g>
<g>
<text x="870" y="692" class="n">90x90 GALV. POSTS</text><text x="870" y="700" class="n">SET INTO CONC.</text><text x="870" y="708" class="n">FOOTINGS BY ENGINEER</text>
<text x="743" y="212" class="n">NO STEP DOWN</text>
<text x="757" y="226" class="n">FULL GLAZED</text><text x="757" y="234" class="n">DOOR</text>
<text x="843" y="226" class="n">SELECTED</text><text x="843" y="234" class="n">DECKING BOARDS</text>
<text x="888" y="275" class="n">SUB-FLOOR</text><text x="888" y="284" class="n">ACCES DOOR</text>
<text x="898" y="313" class="n">HOT WATER HOLDING</text><text x="898" y="321" class="n">TANK WITH GAS BOOSTER</text><text x="898" y="329" class="n">(APPROX. LOCATION)</text>
<text x="862" y="341" class="n">DP.</text><text x="862" y="550" class="n">DP.</text><text x="556" y="580" class="n">DP.</text><text x="621" y="597" class="n">DP.</text>
<text x="912" y="397" class="n">TIMBER SUN</text><text x="912" y="405" class="n">BATTENS OVER</text>
<text x="912" y="428" class="n">SELECTED</text><text x="912" y="436" class="n">DECKING BOARDS</text>
<text x="884" y="527" class="n">TIMBER STEPS DOWN</text><text x="884" y="535" class="n">TO SURFACE BELOW.</text><text x="884" y="543" class="n">APPROX 500mm</text>
<text x="884" y="587" class="n">SELECTED</text><text x="884" y="595" class="n">DECKING BOARDS</text>
</g>
<g text-anchor="end">
<text x="693" y="212" class="n">TIMBER STEPS DOWN TO</text><text x="693" y="220" class="n">SURFACE BELOW. APPROX 500mm</text>
<text x="528" y="526" class="n">CUPBOARDS OVER WITH IN CEILING</text><text x="528" y="534" class="n">SPACE BETWEEN TRUSSES.</text><text x="528" y="543" class="n">CONFIRM LOCATION WITH CLIENTS</text>
</g>
<g text-anchor="middle" font-size="7">
<text transform="rotate(-90 681 312)" x="681" y="312">SL DOOR</text>
<text transform="rotate(-90 697 297)" x="697" y="297">ROBE</text>
<text transform="rotate(-90 681 530)" x="681" y="530">SL DOOR</text>
<text transform="rotate(-90 697 525)" x="697" y="525">ROBE</text>
<text transform="rotate(-90 719 280)" x="719" y="280">820</text>
<text transform="rotate(-90 762 300)" x="762" y="300">900</text>
<text transform="rotate(-90 727 350)" x="727" y="350">1290</text>
<text transform="rotate(-90 673 388)" x="673" y="388">820</text>
<text transform="rotate(-90 717 425)" x="717" y="425">1020 CSD</text>
<text transform="rotate(-90 682 430)" x="682" y="430" font-size="6">BI-FOLD</text>
<text transform="rotate(-90 815 277)" x="815" y="277" font-size="6">D.W</text>
<text transform="rotate(-90 838 280)" x="838" y="280" font-size="6">O.K.C</text>
<text transform="rotate(-90 823 310)" x="823" y="310" font-size="6">U.B.O</text>
<text transform="rotate(-90 834 347)" x="834" y="347" font-size="5">REF SPACE</text>
<text transform="rotate(-90 747 345)" x="747" y="345" font-size="5">BREAKFAST BAR</text>
<text transform="rotate(-90 863 415)" x="863" y="415" font-size="6">2121-2 SGD</text>
<text transform="rotate(-90 870 415)" x="870" y="415" font-size="5">NO STEP DOWN</text>
<text transform="rotate(-90 658 608)" x="658" y="608" font-size="5">900x600</text>
<text transform="rotate(-90 664 608)" x="664" y="608" font-size="5">OPENING</text>
<text transform="rotate(-90 832 608)" x="832" y="608" font-size="5">900x600</text>
<text transform="rotate(-90 838 608)" x="838" y="608" font-size="5">OPENING</text>
<text transform="rotate(-90 583 665)" x="583" y="665" font-size="8">900</text>
<text transform="rotate(-90 597 660)" x="597" y="660" font-size="8">RAMP/LAND.</text>
<text transform="rotate(-90 562 418)" x="562" y="418" font-size="5.5">SAFETY GLAZING</text>
<text transform="rotate(-90 569 418)" x="569" y="418" font-size="5.5">AW 0806</text>
<text transform="rotate(-90 550 553)" x="550" y="553" font-size="5.5">METER</text>
<text transform="rotate(-90 556 553)" x="556" y="553" font-size="5.5">BOX</text>
<text transform="rotate(62 823 518)" x="823" y="518" font-size="5.5">CATHEDRAL</text>
<text transform="rotate(62 816 522)" x="816" y="522" font-size="5.5">CEILING OVER</text>
<text x="607" y="408" font-size="5">FD</text>
</g>

<!-- section markers -->
<g stroke="#222" stroke-width="1">
<polygon points="371,440 431,440 401,471" fill="#111"/><circle cx="401" cy="440" r="21" fill="#fff"/><path d="M371 440H456"/>
<polygon points="934,463 994,463 964,494" fill="#111"/><circle cx="964" cy="463" r="20" fill="#fff"/><path d="M853 463H994"/>
<polygon points="521,627 580,627 550,656" fill="#111"/><circle cx="550" cy="627" r="20" fill="#fff"/><path d="M521 627H640"/>
<polygon points="879,627 938,627 908,656" fill="#111"/><circle cx="908" cy="627" r="20" fill="#fff"/><path d="M851 627H938"/>
</g>
<g text-anchor="middle">
<text x="401" y="436" font-size="10" fill="#444">A</text><text x="401" y="454" font-size="9" fill="#444">09</text>
<text x="964" y="459" font-size="10" fill="#444">A</text><text x="964" y="477" font-size="9" fill="#444">09</text>
<text x="550" y="623" font-size="10" fill="#444">B</text><text x="550" y="641" font-size="9" fill="#444">10</text>
<text x="908" y="623" font-size="10" fill="#444">B</text><text x="908" y="641" font-size="9" fill="#444">10</text>
</g>

<!-- compass -->
<g fill="none" stroke="#222" stroke-width="1.2">
<circle cx="394" cy="644" r="45"/>
<path d="M340 630L390 647M405 590L374 693M400 648L439 648M426 648L477 640M426 648L451 710"/>
<path d="M477 640A40 40 0 0 1 451 710" stroke-width="0.8"/>
</g>
<polygon points="399,609 405,606 430,649 424,652" fill="#bbb" stroke="#222" stroke-width="0.8"/>
<polygon points="424,646 430,650 384,686 379,682" fill="#bbb" stroke="#222" stroke-width="0.8"/>
<g fill="#111"><circle cx="384" cy="601" r="3.5"/><circle cx="424" cy="617" r="3.5"/><circle cx="361" cy="678" r="3.5"/><circle cx="403" cy="687" r="3.5"/></g>
<g font-size="10" text-anchor="middle">
<text transform="rotate(-70 331 632)" x="331" y="632">S</text>
<text transform="rotate(-70 407 590)" x="407" y="590">W</text>
<text transform="rotate(-70 368 710)" x="368" y="710">E</text>
<text transform="rotate(-70 448 664)" x="448" y="664">N</text>
</g>
<g font-size="7" text-anchor="middle">
<text transform="rotate(70 408 630)" x="408" y="630">summer</text>
<text transform="rotate(-65 416 665)" x="416" y="665">winter</text>
<text transform="rotate(-70 462 652)" x="462" y="652">N 20° W</text>
<text transform="rotate(60 440 690)" x="440" y="690">N 30° E</text>
<text transform="rotate(70 477 672)" x="477" y="672">north facing</text>
</g>

<!-- ===== WET AREA PLAN ===== -->
<g fill="#fff" stroke="#111" stroke-width="1.6">
<rect x="1136" y="340" width="9" height="86"/><rect x="1136" y="470" width="9" height="90"/>
<rect x="1145" y="355" width="8" height="187" stroke-width="1"/>
<rect x="1153" y="355" width="190" height="12"/>
<rect x="1153" y="531" width="190" height="11"/>
<rect x="1276" y="428" width="65" height="9"/>
<rect x="1276" y="428" width="7" height="103"/>
<rect x="1405" y="340" width="8" height="97"/>
<rect x="1405" y="505" width="8" height="55"/>
</g>
<rect x="1408" y="360" width="4" height="75" fill="#111"/>
<rect x="1138" y="426" width="7" height="44" fill="#fff" stroke="#333" stroke-width="0.8"/>
<g fill="none" stroke="#333" stroke-width="0.8">
<rect x="1283" y="437" width="56" height="94"/>
<path d="M1340 437v94M1343 437v94"/><rect x="1339" y="484" width="5" height="10" fill="#fff"/>
<rect x="1155" y="367" width="61" height="33"/>
<ellipse cx="1185" cy="383" rx="15" ry="12"/><circle cx="1186" cy="388" r="1.5"/>
<ellipse cx="1184" cy="490" rx="11" ry="14"/><ellipse cx="1184" cy="512" rx="13" ry="9"/><circle cx="1184" cy="486" r="5"/>
<circle cx="1245" cy="517" r="4"/><path d="M1245 521V572"/>
<path d="M1155 367L1277 470M1277 367L1155 470M1213 470L1276 531M1276 470L1213 531" stroke-dasharray="6 3"/>
<path d="M1276 367V428M1155 470H1276M1213 470V531" stroke-dasharray="6 3"/>
<rect x="1285" y="445" width="45" height="42" stroke-dasharray="5 3"/>
<rect x="1291" y="498" width="34" height="27"/><circle cx="1302" cy="512" r="1.5"/>
<circle cx="1322" cy="483" r="6"/><path d="M1314 483h16M1322 475v16"/>
<path d="M1282 369A58 58 0 0 0 1340 427M1348 340A30 30 0 0 1 1343 360"/>
<rect x="1368" y="380" width="22" height="20"/><rect x="1371" y="383" width="16" height="14"/><path d="M1371 383l16 14M1387 383l-16 14"/>
<path d="M1217 338V414M1277 338V365M1100 560H1135M1226 556H1213V532M1243 580H1245M1295 556H1310V528M1348 556H1330V490M1350 545L1380 530"/>
</g>
<circle cx="1216" cy="417" r="2.5" fill="#111"/>
<circle cx="1375" cy="462" r="6" fill="#fff" stroke="#111"/><path d="M1375 462h-6a6 6 0 0 1 6-6zM1375 462h6a6 6 0 0 1-6 6z" fill="#111"/>
<g text-anchor="middle">
<text x="1218" y="340" font-size="6">FLOOR</text><text x="1218" y="349" font-size="6">DRAIN</text>
<text x="1305" y="340" font-size="6">WATER</text><text x="1305" y="349" font-size="6">STOP</text>
<text x="1297" y="394" font-size="9.5">BATH</text><text x="1299" y="406" font-size="7.5">TILES</text>
<text x="1373" y="365" font-size="7">820</text>
<text x="1375" y="431" font-size="9.5">PASS.</text><text x="1376" y="443" font-size="7.5">F/BRDS</text>
<text x="1388" y="506" font-size="9.5">L'DRY</text><text x="1388" y="519" font-size="7.5">TILES</text>
<text x="1373" y="540" font-size="7">820</text>
<g font-size="6">
<text x="1197" y="558">900x900</text><text x="1199" y="568">IN-SITU</text><text x="1199" y="578">SHWR.</text>
<text x="1273" y="558">SHLVS.</text><text x="1277" y="568">OVER</text>
<text x="1280" y="582">SHOWER</text><text x="1275" y="592">HEAD</text>
<text x="1366" y="558">SEALED EXHAUST</text><text x="1373" y="568">FAN REQ. TO VENT</text><text x="1373" y="578">INTO ROOF SPACE</text>
</g>
<g font-size="5.5">
<text transform="rotate(-40 1238 385)" x="1238" y="385">1:50 FALL</text>
<text transform="rotate(45 1194 408)" x="1194" y="408">1:50 FALL</text>
<text transform="rotate(45 1246 440)" x="1246" y="440">1:50 FALL</text>
<text transform="rotate(-40 1186 452)" x="1186" y="452">1:50 FALL</text>
<text transform="rotate(-50 1257 495)" x="1257" y="495">1:50 FALL</text>
<text transform="rotate(55 1233 488)" x="1233" y="488">1:50 FALL</text>
<text transform="rotate(-90 1203 483)" x="1203" y="483">1:50 FALL</text>
<text transform="rotate(-90 1211 515)" x="1211" y="515">OPEN</text>
<text transform="rotate(50 1265 465)" x="1265" y="465">OPEN</text>
</g>
<g font-size="7">
<text transform="rotate(-90 1339 392)" x="1339" y="392">820</text>
<text transform="rotate(-90 1351 465)" x="1351" y="465" font-size="6">BI-FOLD</text>
<text transform="rotate(-90 1424 470)" x="1424" y="470">1020 CSD</text>
<text transform="rotate(-90 1299 465)" x="1299" y="465" font-size="6">WM</text>
<text transform="rotate(-90 1307 465)" x="1307" y="465" font-size="6">SPACE</text>
<text transform="rotate(-90 1124 438)" x="1124" y="438" font-size="5.5">SAFETY GLAZING</text>
<text transform="rotate(-90 1132 438)" x="1132" y="438" font-size="5.5">AW 0806</text>
</g>
<text x="1380" y="393" font-size="6">MH</text>
</g>
</svg>
</body></html>
